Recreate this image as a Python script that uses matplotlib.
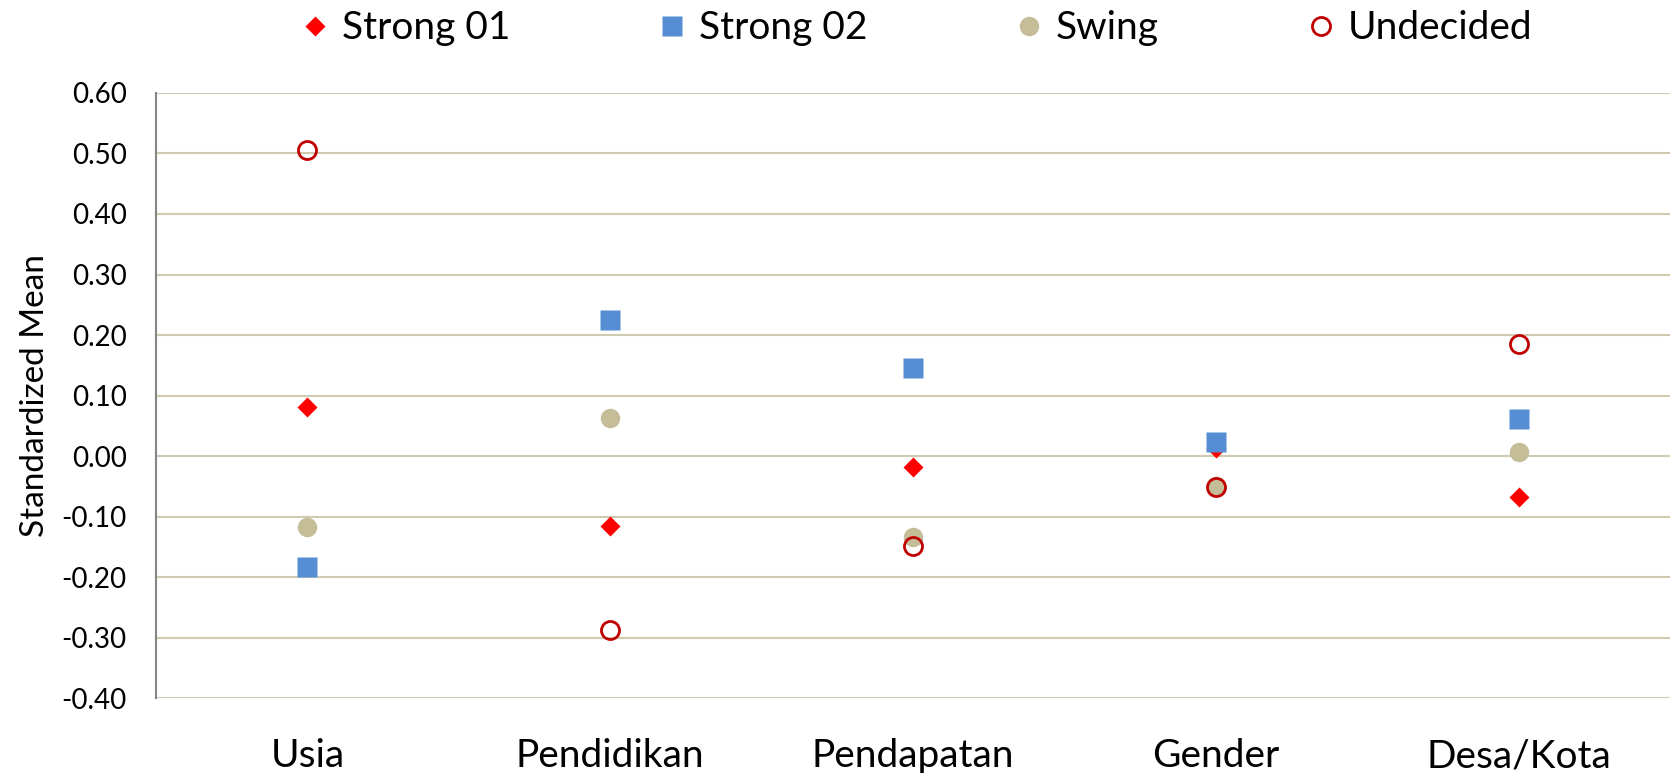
import matplotlib.pyplot as plt

categories = ['Usia', 'Pendidikan', 'Pendapatan', 'Gender', 'Desa/Kota']
strong01 = [0.081, -0.116, -0.018, 0.013, -0.067]
strong02 = [-0.184, 0.224, 0.145, 0.023, 0.061]
swing = [-0.118, 0.063, -0.134, -0.049, 0.007]
undecided = [0.506, -0.287, -0.148, -0.051, 0.185]
yticks = [-0.4, -0.3, -0.2, -0.1, 0.0, 0.1, 0.2, 0.3, 0.4, 0.5, 0.6]

txt_font = ['Lato', 'DejaVu Sans']
plt.rcParams['font.family'] = txt_font

fig = plt.figure(figsize=(16.73, 7.73), dpi=100)
ax = fig.add_axes([0.0932, 0.097, 0.905, 0.7827])

x = list(range(len(categories)))
ax.plot(x, strong01, 'D', ms=10.5, color='#FF0000', mec='none', label='Strong 01', zorder=3)
ax.plot(x, strong02, 's', ms=14, color='#558ED5', mec='none', label='Strong 02', zorder=3)
ax.plot(x, swing, 'o', ms=14, color='#C4BD97', mec='none', label='Swing', zorder=3)
ax.plot(x, undecided, 'o', ms=13, mfc='none', mec='#C00000', mew=2, label='Undecided', zorder=3)

ax.set_xlim(-0.5, len(categories) - 0.5)
ax.set_ylim(-0.4, 0.6)
ax.set_yticks(yticks)
ax.set_yticklabels([f'{v:.2f}' for v in yticks], fontsize=20)
ax.set_xticks(x)
ax.set_xticklabels(categories, fontsize=28)
ax.tick_params(axis='both', length=0)
ax.tick_params(axis='x', pad=29)
ax.tick_params(axis='y', pad=21)
ax.grid(axis='y', color='#CFCAB0', lw=1.5)
ax.set_axisbelow(True)
for s in ['top', 'right', 'bottom']:
    ax.spines[s].set_visible(False)
ax.spines['left'].set_color('#868686')
ax.spines['left'].set_linewidth(1.5)

ax.set_ylabel('Standardized Mean', fontsize=24, labelpad=8)

fig.legend(loc='upper center', bbox_to_anchor=(0.548, 1.032), ncol=4, frameon=False,
           prop={'size': 28}, handlelength=0.7, handletextpad=0.35,
           columnspacing=3.8)

fig.savefig('out.png', dpi=100)
